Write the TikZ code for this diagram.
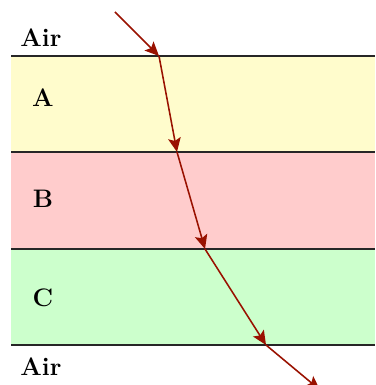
\documentclass[tikz,border=0pt]{standalone}
\usetikzlibrary{arrows.meta}
\definecolor{yellowA}{RGB}{255,252,204}
\definecolor{pinkB}{RGB}{255,204,204}
\definecolor{greenC}{RGB}{204,255,204}
\definecolor{beamred}{RGB}{153,17,0}
\tikzset{
    beam/.style={-{Stealth[length=10pt, width=9pt, inset=2pt]}, beamred, line width=1.1pt},
    border/.style={line width=1.3pt, black!85}
}

\begin{document}
\begin{tikzpicture}[x=0.025cm, y=-0.025cm, every node/.style={font=\bfseries\fontsize{18}{20}\selectfont}]
    \useasboundingbox (0,0) rectangle (375,385);
    % layers
    \fill[yellowA] (11,56) rectangle (375,152);
    \fill[pinkB] (11,152) rectangle (375,249);
    \fill[greenC] (11,249) rectangle (375,345);
    \foreach \y in {56,152,249,345} {
        \draw[border] (11,\y) -- (375,\y);
    }

    \node (airTop) at (41,38) {Air};
    \node (labA) at (43,98) {A};
    \node (labB) at (43,199) {B};
    \node (labC) at (43,298) {C};
    \node (airBot) at (41,367) {Air};

    % ray
    \coordinate (p0) at (115,12);
    \coordinate (p1) at (159,56);
    \coordinate (p2) at (177,152);
    \coordinate (p3) at (205,249);
    \coordinate (p4) at (266,345);
    \coordinate (p5) at (320,390);
    \foreach \a/\b in {p0/p1, p1/p2, p2/p3, p3/p4, p4/p5} {
        \draw[beam] (\a) -- (\b);
    }
\end{tikzpicture}
\end{document}
